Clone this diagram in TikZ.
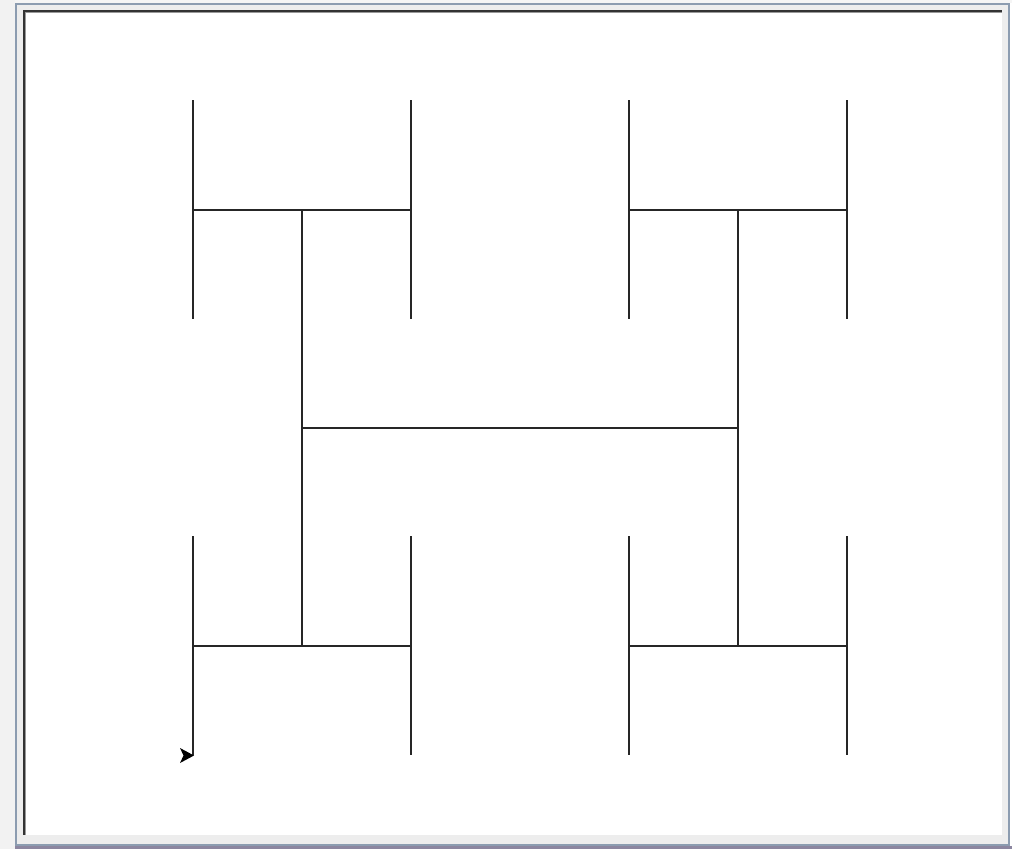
\documentclass[tikz,border=0pt]{standalone}
\begin{document}
\begin{tikzpicture}[x=1pt,y=-1pt,
  seg/.style={line width=1.6pt,color=black!85,line cap=rect},
]
\useasboundingbox (0,0) rectangle (1012,849);
% window chrome
\fill[white] (0,0) rectangle (1012,849);
\fill[black!5] (0,0) rectangle (15,849);
\fill[black!4] (15,0) rectangle (1012,3);
\fill[black!8] (15,3) rectangle (1010,846);
\draw[color={rgb,255:red,140;green,156;blue,176},line width=2pt] (16,4) -- (16,845) -- (1009,845) -- (1009,4) -- cycle;
\fill[black!7] (17,5) rectangle (1008,844);
\fill[white] (25,12) rectangle (1002,835);
\fill[black!80] (23,10) rectangle (1002,12);
\fill[black!80] (23,10) rectangle (25,835);
\fill[black!40] (25,12) rectangle (1002,13);
\fill[black!40] (25,12) rectangle (26,835);
\fill[color={rgb,255:red,140;green,134;blue,160}] (15,846) rectangle (1012,849);
% H-tree: central H
\draw[seg] (302,428) -- (738,428);
\draw[seg] (302,210) -- (302,646);
\draw[seg] (738,210) -- (738,646);
% four small H's
\foreach \cx/\cy in {302/210, 738/210, 302/646, 738/646}{
  \draw[seg] (\cx-109,\cy) -- (\cx+109,\cy);
  \draw[seg] (\cx-109,\cy-109) -- (\cx-109,\cy+108);
  \draw[seg] (\cx+109,\cy-109) -- (\cx+109,\cy+108);
}
% turtle
\fill[black] (194,755.5) -- (180,748) -- (183.5,755.5) -- (180,763) -- cycle;
\end{tikzpicture}
\end{document}
